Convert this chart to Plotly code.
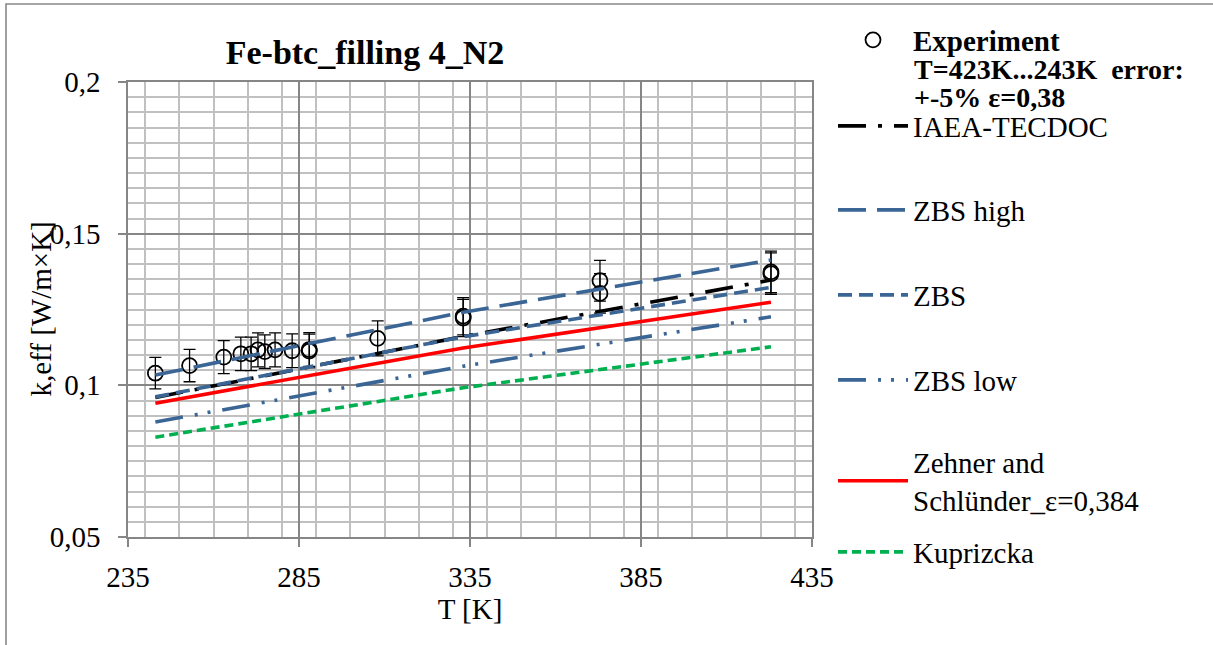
import plotly.graph_objects as go

# Measured effective thermal conductivity (N2 filling), temperature in K
exp_T = [243, 253, 263, 268, 271, 273, 275, 278, 283, 288, 288, 308, 333, 333, 373, 373, 423, 423]
exp_k = [0.1040, 0.1065, 0.1093, 0.1104, 0.1104, 0.1117, 0.1111, 0.1117, 0.1114,
         0.1113, 0.1118, 0.1155, 0.1222, 0.1228, 0.1303, 0.1345, 0.1368, 0.1374]
exp_err_pct = 5

# Model predictions
model_T = [243, 333, 423]
k_iaea = [0.0960, 0.1161, 0.1347]
k_zbs_high = [0.1034, 0.1241, 0.1413]
k_zbs = [0.0962, 0.1160, 0.1323]
k_zbs_low = [0.0879, 0.1063, 0.1226]
k_zehner = [0.0941, 0.1123, 0.1274]
k_kuprizcka = [0.0829, 0.0992, 0.1127]

x_ticks = [235, 285, 335, 385, 435]
x_ticktext = ["235", "285", "335", "385", "435"]
y_ticks = [0.05, 0.10, 0.15, 0.20]
y_ticktext = ["0,05", "0,1", "0,15", "0,2"]

FONT = "Liberation Serif"
FS = 29
BLUE = "#3A6595"
W, H = 1213, 645
L, R, T, B = 128, 401, 82, 108
PW, PH = W - L - R, H - T - B


def px_x(px):
    return (px - L) / PW


def px_y(py):
    return (H - B - py) / PH


fig = go.Figure()

fig.add_trace(go.Scatter(
    x=exp_T, y=exp_k, mode="markers", name="<b>Experiment</b>",
    marker=dict(symbol="circle-open", size=15, color="black", line=dict(width=1.8, color="black")),
    error_y=dict(type="percent", value=exp_err_pct, color="black", thickness=1.3, width=6),
    legend="legend",
))

models = [
    ("IAEA-TECDOC", k_iaea, "black", "28px,12px,4px,12px", "legend2"),
    ("ZBS high", k_zbs_high, BLUE, "28px,11px", "legend3"),
    ("ZBS", k_zbs, BLUE, "14px,7px", "legend4"),
    ("ZBS low", k_zbs_low, BLUE, "28px,12px,3px,10px,3px,12px", "legend5"),
    ("Zehner and<br>Schlünder_ε=0,384", k_zehner, "#FF0000", "solid", "legend6"),
    ("Kuprizcka", k_kuprizcka, "#00B050", "9px,5px", "legend7"),
]
for name, vals, col, dash, lg in models:
    fig.add_trace(go.Scatter(
        x=model_T, y=vals, mode="lines", name=name,
        line=dict(color=col, width=3.6, dash=dash),
        legend=lg,
    ))

legend_centres = {
    "legend": 40, "legend2": 126, "legend3": 210, "legend4": 295,
    "legend5": 380, "legend6": 481, "legend7": 552,
}
legend_left = px_x(833)
for key, cy in legend_centres.items():
    fig.layout[key] = dict(
        x=legend_left, y=px_y(cy), xanchor="left", yanchor="middle",
        xref="paper", yref="paper",
        bgcolor="rgba(0,0,0,0)", borderwidth=0, itemwidth=70,
        font=dict(family=FONT, size=FS, color="black"),
        itemclick=False, itemdoubleclick=False,
    )

annotations = [
    dict(text="<b>T=423K...243K&nbsp;&nbsp;error:</b>", x=px_x(912), y=px_y(69)),
    dict(text="<b>+-5% ε=0,38</b>", x=px_x(912), y=px_y(97)),
]
for a in annotations:
    fig.add_annotation(
        text=a["text"], x=a["x"], y=a["y"], xref="paper", yref="paper",
        xanchor="left", yanchor="middle", showarrow=False,
        font=dict(family=FONT, size=FS - 1, color="black"),
    )

fig.add_annotation(
    text="k,eff [W/m×K]", x=px_x(40), y=0.5, xref="paper", yref="paper",
    textangle=-90, xanchor="center", yanchor="middle", showarrow=False,
    font=dict(family=FONT, size=FS, color="black"),
)

# outer chart frame
fig.add_shape(
    type="rect", xref="paper", yref="paper",
    x0=px_x(6), x1=px_x(W + 20), y0=px_y(H + 20), y1=px_y(4),
    line=dict(color="#888888", width=1.6), fillcolor="rgba(0,0,0,0)", layer="below",
)

fig.update_layout(
    width=W, height=H,
    margin=dict(l=L, r=R, t=T, b=B),
    paper_bgcolor="white", plot_bgcolor="white",
    font=dict(family=FONT, size=FS, color="black"),
    title=dict(
        text="Fe-btc_filling 4_N2", x=365 / W, y=1 - 52 / H,
        xref="container", yref="container", xanchor="center", yanchor="middle",
        font=dict(family=FONT, size=34, color="black", weight="bold"),
    ),
    showlegend=True,
)

axis_common = dict(
    showline=True, linecolor="#868686", linewidth=1.5, mirror=True,
    showgrid=True, gridcolor="#868686", gridwidth=1.5,
    ticks="outside", ticklen=8, tickcolor="#868686", tickwidth=1.5,
    zeroline=False, tickfont=dict(family=FONT, size=FS, color="black"),
)

fig.update_xaxes(
    range=[235, 435], tickvals=x_ticks, ticktext=x_ticktext,
    minor=dict(dtick=10, showgrid=True, gridcolor="#C0C0C0", gridwidth=1.5, ticks=""),
    title=dict(text="T [K]", font=dict(family=FONT, size=FS, color="black"), standoff=3),
    ticklabelstandoff=5,
    **axis_common,
)
fig.update_yaxes(
    range=[0.05, 0.2], tickvals=y_ticks, ticktext=y_ticktext,
    minor=dict(dtick=0.005, tick0=0.05, showgrid=True, gridcolor="#C0C0C0", gridwidth=1.5, ticks=""),
    ticklabelstandoff=12,
    **axis_common,
)

fig.write_html("out.html")
